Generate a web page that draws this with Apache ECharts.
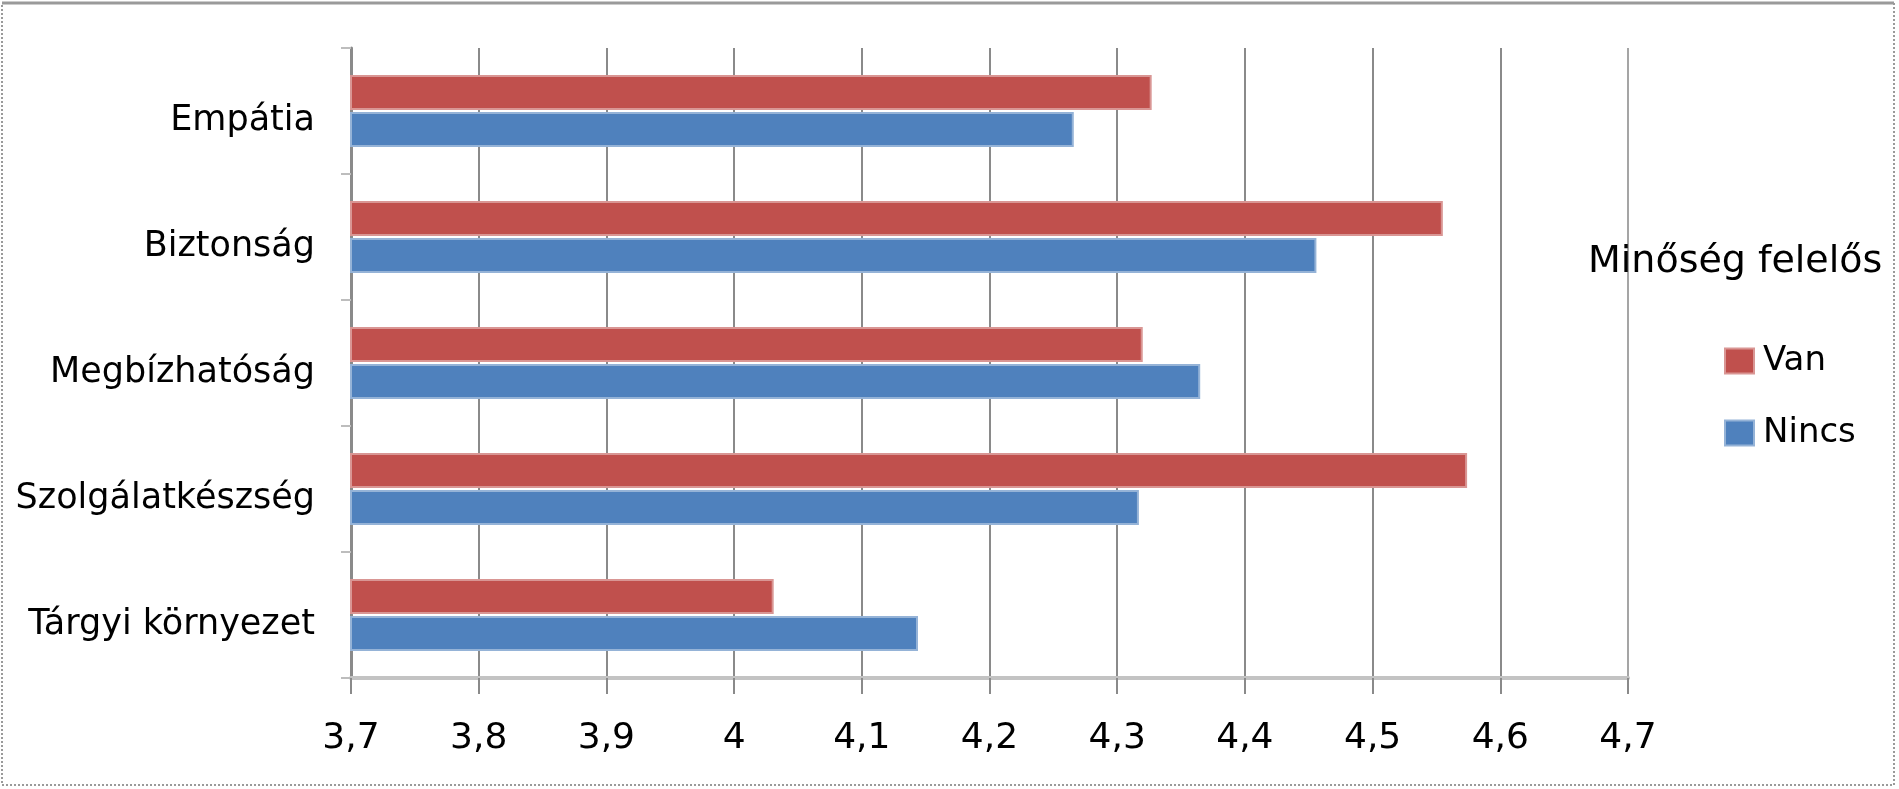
<!DOCTYPE html>
<html>
<head>
<meta charset="utf-8">
<script src="https://cdn.jsdelivr.net/npm/echarts@6/dist/echarts.min.js"></script>
<style>
html,body{margin:0;padding:0;background:#fff;}
#chart{width:1899px;height:789px;}
</style>
</head>
<body>
<div id="chart"></div>
<script>
// Categories, bottom to top (ECharts draws the first category at the bottom)
const categories = ['Tárgyi környezet', 'Szolgálatkészség', 'Megbízhatóság', 'Biztonság', 'Empátia'];
const vanValues = [4.031, 4.574, 4.320, 4.555, 4.327];
const nincsValues = [4.144, 4.317, 4.365, 4.456, 4.266];
const xTickLabels = ['3,7', '3,8', '3,9', '4', '4,1', '4,2', '4,3', '4,4', '4,5', '4,6', '4,7'];
const legendTitle = 'Minőség felelős';
const seriesNames = ['Van', 'Nincs'];

const FONT = 'DejaVu Sans';
const chart = echarts.init(document.getElementById('chart'), null, {renderer: 'canvas'});
chart.setOption({
  animation: false,
  backgroundColor: '#fff',
  textStyle: {fontFamily: FONT},
  title: {
    text: legendTitle,
    left: 1583,
    top: 238,
    textStyle: {fontFamily: FONT, fontSize: 38, fontWeight: 'normal', color: '#000'}
  },
  legend: {
    data: seriesNames,
    orient: 'vertical',
    left: 1719,
    top: 339,
    itemWidth: 29,
    itemHeight: 25,
    itemGap: 38,
    icon: 'rect',
    textStyle: {fontFamily: FONT, fontSize: 34, color: '#000', padding: [0, 0, 0, 4]}
  },
  grid: {left: 351, right: 271, top: 48, bottom: 111, containLabel: false},
  xAxis: {
    type: 'value',
    min: 3.7,
    max: 4.7,
    interval: 0.1,
    axisLine: {show: true, lineStyle: {color: '#c3c3c3', width: 4}},
    axisTick: {show: true, length: 16, lineStyle: {color: '#8a8a8a', width: 2}},
    axisLabel: {
      margin: 43,
      fontFamily: FONT, fontSize: 36, color: '#000',
      formatter: function (v) { return xTickLabels[Math.round((v - 3.7) * 10)]; }
    },
    splitLine: {show: true, lineStyle: {color: ['#8a8a8a','#8a8a8a','#8a8a8a','#8a8a8a','#8a8a8a','#8a8a8a','#8a8a8a','#8a8a8a','#8a8a8a','#8a8a8a','#a5a5a5'], width: 2}}
  },
  yAxis: {
    type: 'category',
    data: categories,
    axisLine: {show: true, lineStyle: {color: '#8a8a8a', width: 3}},
    axisTick: {show: true, length: 10, lineStyle: {color: '#bdbdbd', width: 2}},
    axisLabel: {margin: 36, fontFamily: FONT, fontSize: 35, color: '#000', verticalAlign: 'top', lineHeight: 20},
    splitLine: {show: false}
  },
  series: [
    {
      name: 'Van', type: 'bar', data: vanValues,
      barWidth: 35, barGap: '6%',
      itemStyle: {color: '#c0504d', borderColor: '#d99694', borderWidth: 2}
    },
    {
      name: 'Nincs', type: 'bar', data: nincsValues,
      barWidth: 35, barGap: '6%',
      itemStyle: {color: '#4f81bd', borderColor: '#95b3d7', borderWidth: 2}
    }
  ],
  graphic: [
    {type: 'rect', shape: {x: 2, y: 3, width: 1892, height: 782}, style: {fill: 'none', stroke: '#9a9a9a', lineWidth: 2, lineDash: [2, 2]}, silent: true},
    {type: 'line', shape: {x1: 2, y1: 3, x2: 1894, y2: 3}, style: {stroke: '#9a9a9a', lineWidth: 3}, silent: true}
  ]
});
</script>
</body>
</html>
